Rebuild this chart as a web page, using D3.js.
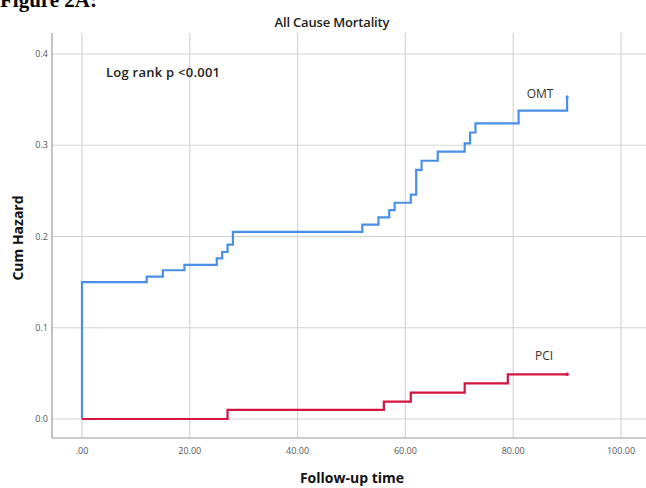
<!DOCTYPE html>
<html lang="en">
<head>
  <meta charset="UTF-8" />
  <title>All Cause Mortality</title>
  <style>
    body {
      margin: 0;
      background: #fff;
      overflow: hidden;
    }
    svg {
      display: block;
    }
    .tick-label {
      font-family: "Open Sans", sans-serif;
      font-size: 9px;
      fill: #555;
    }
  </style>
</head>
<body>
  <svg width="646" height="488"></svg>

  <script src="https://cdnjs.cloudflare.com/ajax/libs/d3/7.8.5/d3.min.js"></script>
  <script>
    // step points: [time, cum hazard]
    const omtTimes  = [0, 0, 12, 15, 19, 25, 26, 27, 28, 52, 55, 57, 58, 61, 62, 63, 66, 71, 72, 73, 81, 90, 90];
    const omtHazard = [0, 0.150, 0.156, 0.163, 0.169, 0.176, 0.183, 0.191, 0.205, 0.213, 0.221, 0.229, 0.237, 0.246, 0.273, 0.283, 0.293, 0.302, 0.314, 0.324, 0.338, 0.338, 0.353];
    const pciTimes  = [0, 27, 56, 61, 71, 79, 90];
    const pciHazard = [0, 0.010, 0.019, 0.029, 0.039, 0.049, 0.049];

    const xTicks = [0, 20, 40, 60, 80, 100];
    const yTicks = [0, 0.1, 0.2, 0.3, 0.4];

    const svg = d3.select("svg");

    // x(0)=82, x(100)=621 ; y(0)=419, y(0.4)=54
    const x = d3.scaleLinear().domain([0, 100]).range([82, 621]);
    const y = d3.scaleLinear().domain([0, 0.4]).range([419, 54]);

    const plotLeft = 52, plotBottom = 438, plotTop = 33, plotRight = 646;

    // gridlines
    const grid = svg.append("g").attr("stroke", "#d4d4d4").attr("stroke-width", 1.2);
    grid.selectAll("line.v")
      .data(xTicks)
      .join("line")
      .attr("x1", d => x(d)).attr("x2", d => x(d))
      .attr("y1", plotTop).attr("y2", plotBottom);
    grid.selectAll("line.h")
      .data(yTicks)
      .join("line")
      .attr("x1", plotLeft).attr("x2", plotRight)
      .attr("y1", d => y(d)).attr("y2", d => y(d));

    // axis lines
    svg.append("line")
      .attr("x1", plotLeft).attr("x2", plotLeft).attr("y1", plotTop).attr("y2", plotBottom)
      .attr("stroke", "#999").attr("stroke-width", 1.2);
    svg.append("line")
      .attr("x1", plotLeft).attr("x2", plotRight).attr("y1", plotBottom).attr("y2", plotBottom)
      .attr("stroke", "#999").attr("stroke-width", 1.2);

    // tick labels
    svg.selectAll("text.xt")
      .data(xTicks)
      .join("text")
      .attr("class", "tick-label")
      .attr("x", d => x(d))
      .attr("y", 454)
      .attr("text-anchor", "middle")
      .text(d => d === 0 ? ".00" : d.toFixed(2));
    svg.selectAll("text.yt")
      .data(yTicks)
      .join("text")
      .attr("class", "tick-label")
      .attr("x", 48)
      .attr("y", d => y(d) + 3)
      .attr("text-anchor", "end")
      .text(d => d.toFixed(1));

    // step curves
    const line = d3.line()
      .x(d => x(d[0]))
      .y(d => y(d[1]))
      .curve(d3.curveStepAfter);

    const omt = d3.zip(omtTimes, omtHazard);
    const pci = d3.zip(pciTimes, pciHazard);

    svg.append("path")
      .datum(omt)
      .attr("d", line)
      .attr("fill", "none")
      .attr("stroke", "#4a8fe6")
      .attr("stroke-width", 2.2);

    svg.append("path")
      .datum(pci)
      .attr("d", line)
      .attr("fill", "none")
      .attr("stroke", "#d6123f")
      .attr("stroke-width", 2.2);

    // end markers
    svg.append("circle")
      .attr("cx", x(90)).attr("cy", y(0.353)).attr("r", 1.6).attr("fill", "#4a8fe6");
    svg.append("circle")
      .attr("cx", x(90)).attr("cy", y(0.049)).attr("r", 1.8).attr("fill", "#d6123f");

    // labels
    const sans = "'Open Sans', sans-serif";
    svg.append("text")
      .attr("x", 0).attr("y", 7)
      .attr("font-family", "'Liberation Serif', serif")
      .attr("font-weight", "bold")
      .attr("font-size", 21)
      .text("Figure 2A:");

    svg.append("text")
      .attr("x", 332).attr("y", 27)
      .attr("text-anchor", "middle")
      .attr("font-family", sans)
      .attr("font-size", 13)
      .attr("font-weight", 600)
      .attr("fill", "#222")
      .attr("textLength", 115)
      .text("All Cause Mortality");

    svg.append("text")
      .attr("x", 106).attr("y", 77)
      .attr("font-family", sans)
      .attr("font-size", 13)
      .attr("font-weight", 600)
      .attr("fill", "#222")
      .attr("textLength", 114)
      .text("Log rank p <0.001");

    svg.append("text")
      .attr("x", 540).attr("y", 98)
      .attr("text-anchor", "middle")
      .attr("font-family", sans)
      .attr("font-size", 12)
      .attr("fill", "#333")
      .text("OMT");

    svg.append("text")
      .attr("x", 544).attr("y", 360)
      .attr("text-anchor", "middle")
      .attr("font-family", sans)
      .attr("font-size", 12)
      .attr("fill", "#333")
      .text("PCI");

    svg.append("text")
      .attr("x", 352).attr("y", 483)
      .attr("text-anchor", "middle")
      .attr("font-family", sans)
      .attr("font-size", 14)
      .attr("font-weight", "bold")
      .attr("fill", "#111")
      .text("Follow-up time");

    svg.append("text")
      .attr("transform", "translate(23,238) rotate(-90)")
      .attr("text-anchor", "middle")
      .attr("font-family", sans)
      .attr("font-size", 14)
      .attr("font-weight", "bold")
      .attr("fill", "#111")
      .text("Cum Hazard");
  </script>
</body>
</html>
